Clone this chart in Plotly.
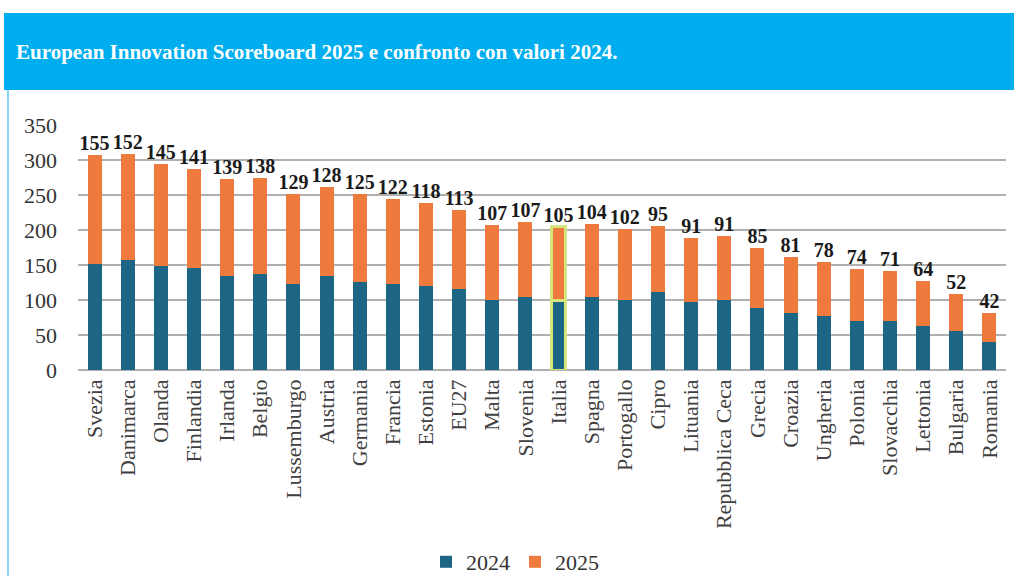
import plotly.graph_objects as go

categories = ["Svezia", "Danimarca", "Olanda", "Finlandia", "Irlanda", "Belgio",
              "Lussemburgo", "Austria", "Germania", "Francia", "Estonia", "EU27",
              "Malta", "Slovenia", "Italia", "Spagna", "Portogallo", "Cipro",
              "Lituania", "Repubblica Ceca", "Grecia", "Croazia", "Ungheria",
              "Polonia", "Slovacchia", "Lettonia", "Bulgaria", "Romania"]
values_2024 = [152, 157, 149, 146, 134, 137, 123, 134, 126, 123, 120, 116, 100, 104,
               100, 104, 100, 111, 97, 100, 89, 81, 77, 70, 70, 63, 56, 40]
values_2025 = [155, 152, 145, 141, 139, 138, 129, 128, 125, 122, 118, 113, 107, 107,
               105, 104, 102, 95, 91, 91, 85, 81, 78, 74, 71, 64, 52, 42]
highlight = "Italia"
title_text = "European Innovation Scoreboard 2025 e confronto con valori 2024."

BLUE = "#1D6585"
ORANGE = "#EF7A3E"
HILITE = "#D6E57C"

# plot-area geometry in pixels (for positioning decorations)
W, H = 1014, 576
ML, MR, MT, MB = 78, 8, 125, 206
PW = W - ML - MR
PH = H - MT - MB


def xp(px):
    return (px - ML) / PW


def yp(py):
    return (H - MB - py) / PH


line_colors = [HILITE if c == highlight else "rgba(0,0,0,0)" for c in categories]
line_widths = [3 if c == highlight else 0 for c in categories]

totals = [a + b for a, b in zip(values_2024, values_2025)]

fig = go.Figure()
fig.add_trace(go.Bar(
    x=categories, y=values_2024, name="2024",
    marker=dict(color=BLUE, line=dict(color=line_colors, width=line_widths)),
    hoverinfo="x+y",
))
fig.add_trace(go.Bar(
    x=categories, y=values_2025, name="2025",
    marker=dict(color=ORANGE, line=dict(color=line_colors, width=line_widths)),
    hoverinfo="x+y",
))
fig.add_trace(go.Scatter(
    x=categories, y=totals, mode="text",
    text=[str(v) for v in values_2025], textposition="top center",
    textfont=dict(family="Liberation Serif", size=20, color="#1a1a1a", weight="bold"),
    showlegend=False, hoverinfo="skip", cliponaxis=False,
))

font_serif = "Liberation Serif"

fig.update_layout(
    width=W, height=H,
    margin=dict(l=ML, r=MR, t=MT, b=MB, autoexpand=False),
    barmode="stack",
    bargap=0.58,
    plot_bgcolor="white",
    paper_bgcolor="white",
    font=dict(family=font_serif, color="#333333"),
    showlegend=True,
    legend=dict(orientation="h", x=xp(515), xanchor="center", y=yp(562),
                yanchor="middle", font=dict(family=font_serif, size=22, color="#333333"),
                traceorder="normal", itemwidth=30),
    xaxis=dict(
        tickangle=-90, showgrid=False, zeroline=False, showline=False,
        range=[-0.5, len(categories) - 0.5],
        tickfont=dict(family=font_serif, size=22, color="#404040"),
        ticklabelstandoff=4, automargin=False,
    ),
    yaxis=dict(
        range=[0, 350], dtick=50, tick0=0,
        showgrid=True, gridcolor="#B0B0B0", gridwidth=2,
        zeroline=True, zerolinecolor="#B0B0B0", zerolinewidth=2,
        showline=False, automargin=False,
        tickfont=dict(family=font_serif, size=22, color="#333333"),
        ticklabelstandoff=20,
    ),
    shapes=[
        dict(type="rect", xref="paper", yref="paper",
             x0=xp(4), x1=xp(1014), y0=yp(90), y1=yp(13),
             fillcolor="#00AEEF", line=dict(width=0), layer="above"),
        dict(type="line", xref="paper", yref="paper",
             x0=xp(8), x1=xp(8), y0=yp(90), y1=yp(576),
             line=dict(color="#5CC8F2", width=1.5)),
    ],
    annotations=[
        dict(text=title_text, xref="paper", yref="paper",
             x=xp(14), xanchor="left", y=yp(52), yanchor="middle",
             showarrow=False,
             font=dict(family=font_serif, size=21, color="white", weight="bold")),
    ],
)

fig.write_html(
    "out.html",
    config={"displayModeBar": False},
    post_script="document.body.style.margin='0';document.body.style.overflow='hidden';",
)
